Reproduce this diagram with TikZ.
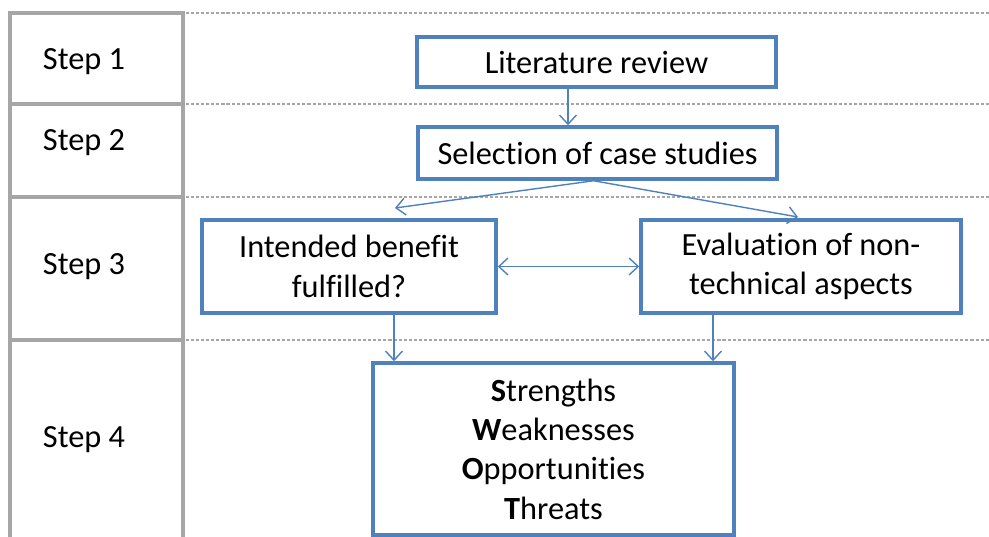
\documentclass[tikz,border=0pt]{standalone}
\usepackage{fontspec}
\setmainfont{Carlito}[Ligatures=NoCommon]
\usepackage{tikz}
\usetikzlibrary{arrows.meta}
\definecolor{boxblue}{HTML}{4F81BD}
\definecolor{gridgrey}{HTML}{A6A6A6}

\begin{document}
\begin{tikzpicture}[
  font=\fontsize{23}{28}\selectfont,
  stepbox/.style={draw=boxblue, line width=2.5pt, align=center, inner sep=0pt},
  link/.style={draw=boxblue, line width=1pt, -{Straight Barb[length=6.5pt,width=12pt]}},
  frame/.style={draw=gridgrey, line width=2.4pt},
  rowline/.style={draw=gridgrey, line width=1.6pt, dash pattern=on 2.2pt off 1.4pt}
]
\useasboundingbox (0,0) rectangle (24.725,-13.425);
% left column and row separators
\draw[frame] (0.25,-13.5) -- (0.25,-0.325) -- (4.575,-0.325) -- (4.575,-13.5);
\foreach \y in {-2.6,-4.925,-8.5}
  \draw[frame] (0.25,\y) -- (4.575,\y);
\foreach \y in {-0.325,-2.6,-4.925,-8.5}
  \draw[rowline] (4.65,\y) -- (24.725,\y);
% step labels
\node (s1) at (2.1,-1.55) {Step 1};
\node (s2) at (2.1,-3.575) {Step 2};
\node (s3) at (2.1,-6.675) {Step 3};
\node (s4) at (2.1,-11.0) {Step 4};
% boxes
\node[stepbox, minimum width=8.975cm, minimum height=1.25cm] (lit) at (14.91,-1.55) {Literature review};
\node[stepbox, minimum width=8.975cm, minimum height=1.3cm] (sel) at (14.94,-3.825) {Selection of case studies};
\node[stepbox, minimum width=7.35cm, minimum height=2.325cm] (ben) at (8.725,-6.6625) {Intended benefit\\fulfilled?};
\node[stepbox, minimum width=8cm, minimum height=2.325cm] (eval) at (20.025,-6.6625) {Evaluation of non-\\technical aspects};
\node[stepbox, minimum width=9.025cm, minimum height=4.3cm] (swot) at (13.8375,-11.225)
  {\textbf{S}trengths\\\textbf{W}eaknesses\\\textbf{O}pportunities\\\textbf{T}hreats};
% connectors
\coordinate (litx) at (14.2,0);
\coordinate (tipl) at (9.875,-5.2);
\coordinate (tipr) at (19.95,-5.425);
\coordinate (downl) at (9.85,0);
\coordinate (downr) at (17.825,0);
\draw[link] (lit.south -| litx) -- (sel.north -| litx);
\draw[link] ([xshift=-0.1cm]sel.south) -- (tipl);
\draw[link] ([xshift=-0.1cm]sel.south) -- (tipr);
\draw[link, {Straight Barb[length=6.5pt,width=12pt]}-{Straight Barb[length=6.5pt,width=12pt]}] (ben.east) -- (eval.west);
\draw[link] (ben.south -| downl) -- (swot.north -| downl);
\draw[link] (eval.south -| downr) -- (swot.north -| downr);
\end{tikzpicture}
\end{document}
